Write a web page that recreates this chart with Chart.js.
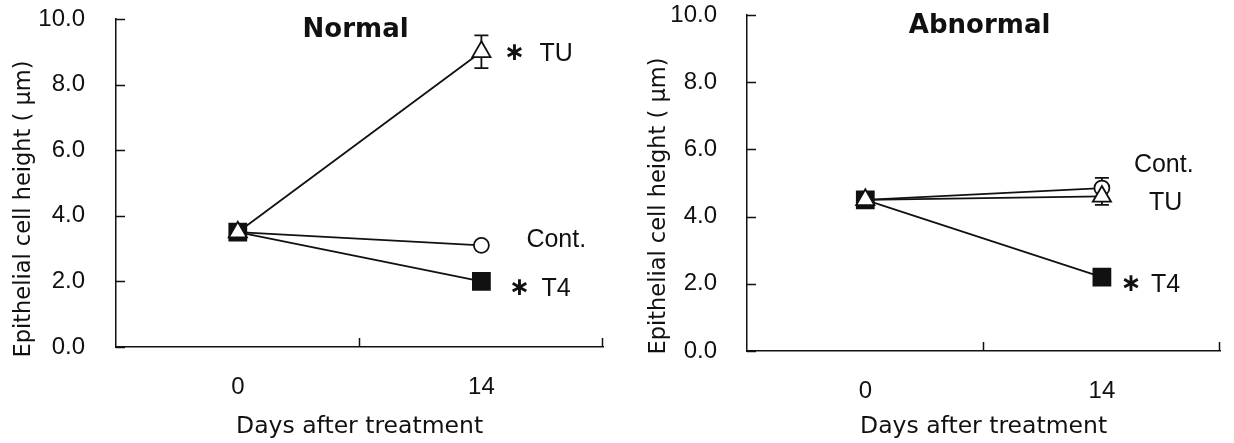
<!DOCTYPE html>
<html>
<head>
<meta charset="utf-8">
<script src="https://cdn.jsdelivr.net/npm/chart.js@4.4.0/dist/chart.umd.min.js"></script>
<style>
  html, body { margin: 0; padding: 0; background: #fff; }
  #wrap { position: relative; width: 1234px; height: 443px; overflow: hidden; }
  #wrap canvas { position: absolute; top: 0; }
</style>
</head>
<body>
<div id="wrap">
  <canvas id="normal" width="617" height="443" style="left:0"></canvas>
  <canvas id="abnormal" width="617" height="443" style="left:617px"></canvas>
</div>
<script>
// ---- data ----
var days = ["0", "14"];
var yTicks = [0, 2, 4, 6, 8, 10];

var normalCont = [3.5, 3.1];
var normalContErr = [0, 0.1];
var normalT4 = [3.5, 2.0];
var normalT4Err = [0, 0.1];
var normalTU = [3.5, 9.0];
var normalTUErr = [0, 0.5];

var abnormalCont = [4.5, 4.85];
var abnormalContErr = [0, 0.3];
var abnormalT4 = [4.5, 2.2];
var abnormalT4Err = [0, 0.1];
var abnormalTU = [4.5, 4.6];
var abnormalTUErr = [0, 0.25];

var INK = "#111";
var NUM_FONT = "'Liberation Sans', Arial, sans-serif";
var TEXT_FONT = "'DejaVu Sans', Verdana, sans-serif";

function series(name, values, errs) {
  return { name: name, values: values, errs: errs };
}

var markers = {
  Cont: { pointStyle: "circle", radius: 7.5, fill: "#fff", order: 2 },
  T4: { pointStyle: "rect", radius: 12, fill: INK, order: 1 },
  TU: { pointStyle: "triangle", radius: 10.5, fill: "#fff", order: 0 }
};

// stop tick labels from pushing the plot area around
function noPad(s) {
  s.paddingTop = 0; s.paddingBottom = 0; s.paddingLeft = 0; s.paddingRight = 0;
}

function makeChart(id, p) {
  var el = document.getElementById(id);
  var W = el.width, H = el.height;

  var datasets = p.series.map(function (s) {
    var m = markers[s.name];
    return {
      label: s.name,
      data: s.values,
      borderColor: INK,
      borderWidth: 1.8,
      pointStyle: m.pointStyle,
      pointRadius: m.radius,
      pointBackgroundColor: m.fill,
      pointBorderColor: INK,
      pointBorderWidth: 1.8,
      tension: 0,
      order: m.order,
      clip: false
    };
  });

  var panel = {
    id: "panel",
    beforeDatasetsDraw: function (chart) {
      var c = chart.ctx, xs = chart.scales.x, ys = chart.scales.y;
      c.save();
      c.strokeStyle = INK;
      c.lineWidth = 1.8;
      p.series.forEach(function (s) {
        s.values.forEach(function (v, j) {
          var e = s.errs[j];
          if (!e) return;
          var x = xs.getPixelForValue(j);
          var y1 = ys.getPixelForValue(v + e), y2 = ys.getPixelForValue(v - e);
          c.beginPath();
          c.moveTo(x, y1); c.lineTo(x, y2);
          c.moveTo(x - 7, y1); c.lineTo(x + 7, y1);
          c.moveTo(x - 7, y2); c.lineTo(x + 7, y2);
          c.stroke();
        });
      });
      c.restore();
    },
    afterDraw: function (chart) {
      var c = chart.ctx, a = chart.chartArea, xs = chart.scales.x, ys = chart.scales.y;
      c.save();
      // inward tick marks
      c.strokeStyle = INK;
      c.lineWidth = 1.5;
      c.beginPath();
      yTicks.forEach(function (v) {
        var y = Math.round(ys.getPixelForValue(v)) + 0.5;
        c.moveTo(a.left, y); c.lineTo(a.left + 9, y);
      });
      var p0 = xs.getPixelForValue(0), p1 = xs.getPixelForValue(1);
      [(p0 + p1) / 2, a.right].forEach(function (x) {
        x = Math.round(x) - 0.5;
        c.moveTo(x, a.bottom); c.lineTo(x, a.bottom - 9);
      });
      c.stroke();

      c.fillStyle = INK;
      // panel title
      c.font = "bold 26px " + TEXT_FONT;
      c.textAlign = "center";
      c.textBaseline = "alphabetic";
      c.fillText(p.title, (a.left + a.right) / 2 - 4, p.titleBase);

      // y axis title
      c.save();
      c.translate(p.yTitleBase, p.yTitleMid);
      c.rotate(-Math.PI / 2);
      c.font = "22.5px " + TEXT_FONT;
      c.textAlign = "center";
      c.fillText("Epithelial cell height ( \u03bcm)", 0, 0);
      c.restore();

      // series notes at the right of day 14
      var px = xs.getPixelForValue(1);
      p.notes.forEach(function (n) {
        var y = ys.getPixelForValue(n.at);
        c.textAlign = "left";
        c.font = "25px " + NUM_FONT;
        c.fillText(n.text, px + n.dx, y + 9);
        if (n.star) {
          c.textAlign = "center";
          c.font = "bold 25px " + TEXT_FONT;
          c.fillText("\u2217", px + n.starDx, y + 8);
        }
      });
      c.restore();
    }
  };

  return new Chart(el, {
    type: "line",
    data: { labels: days, datasets: datasets },
    options: {
      responsive: false,
      animation: false,
      events: [],
      layout: { padding: { top: p.top, right: W - p.right, left: 0, bottom: 0 } },
      plugins: { legend: { display: false }, tooltip: { enabled: false } },
      scales: {
        x: {
          type: "category",
          offset: true,
          grid: { display: false, drawTicks: false, offset: true },
          border: { display: true, color: INK, width: 1.5 },
          ticks: { color: INK, font: { family: NUM_FONT, size: 24 }, padding: 26, maxRotation: 0 },
          title: {
            display: true,
            text: "Days after treatment",
            color: INK,
            font: { family: TEXT_FONT, size: 23.5 },
            padding: { top: 0, bottom: 2 }
          },
          afterFit: function (s) { s.height = H - p.bottom; noPad(s); }
        },
        y: {
          min: 0,
          max: 10,
          grid: { display: false, drawTicks: false },
          border: { display: true, color: INK, width: 1.5 },
          ticks: {
            color: INK,
            font: { family: NUM_FONT, size: 24 },
            padding: p.tickPad,
            callback: function (v) { return Number(v).toFixed(1); }
          },
          afterBuildTicks: function (s) {
            s.ticks = yTicks.map(function (v) { return { value: v }; });
          },
          afterFit: function (s) { s.width = p.left; noPad(s); }
        }
      }
    },
    plugins: [panel]
  });
}

makeChart("normal", {
  title: "Normal",
  left: 116, right: 604, top: 19, bottom: 347,
  tickPad: 31, titleBase: 37, yTitleBase: 30, yTitleMid: 209,
  series: [
    series("Cont", normalCont, normalContErr),
    series("T4", normalT4, normalT4Err),
    series("TU", normalTU, normalTUErr)
  ],
  notes: [
    { text: "TU", at: 9.0, dx: 58, star: true, starDx: 33 },
    { text: "Cont.", at: 3.32, dx: 45 },
    { text: "T4", at: 1.83, dx: 60, star: true, starDx: 38 }
  ]
});

makeChart("abnormal", {
  title: "Abnormal",
  left: 130, right: 616, top: 15, bottom: 351,
  tickPad: 30, titleBase: 33, yTitleBase: 48, yTitleMid: 206,
  series: [
    series("Cont", abnormalCont, abnormalContErr),
    series("T4", abnormalT4, abnormalT4Err),
    series("TU", abnormalTU, abnormalTUErr)
  ],
  notes: [
    { text: "Cont.", at: 5.6, dx: 32 },
    { text: "TU", at: 4.46, dx: 47 },
    { text: "T4", at: 2.02, dx: 49, star: true, starDx: 29 }
  ]
});
</script>
</body>
</html>
